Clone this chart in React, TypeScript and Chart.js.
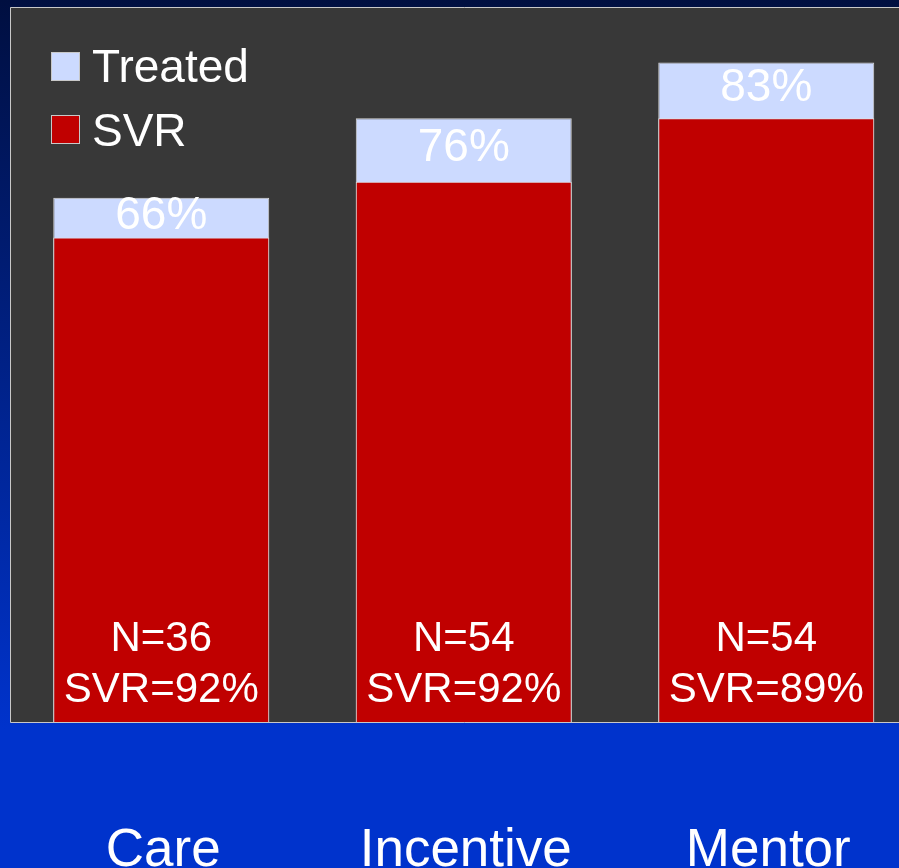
import React, { useEffect, useRef } from "react";
import { Chart, registerables } from "chart.js";

Chart.register(...registerables);

const categories = ["Care", "Incentive", "Mentor"];
const seriesLabels = ["Treated", "SVR"];
const treatedValues = [66, 76, 83];
const svrValues = [61, 68, 76];
const nValues = [36, 54, 54];
const svrRates = [92, 92, 89];
const yMax = 90;

const FONT = '"Liberation Sans", Arial, sans-serif';

const decorPlugin = {
  id: "decor",
  beforeDatasetsDraw(chart: any) {
    const { ctx, chartArea } = chart;
    ctx.save();
    ctx.fillStyle = "#383838";
    ctx.fillRect(chartArea.left, chartArea.top, chartArea.right - chartArea.left, chartArea.bottom - chartArea.top);
    ctx.strokeStyle = "#c8c8c8";
    ctx.lineWidth = 1;
    ctx.beginPath();
    ctx.moveTo(chartArea.right + 0.5, chartArea.top + 0.5);
    ctx.lineTo(chartArea.left + 0.5, chartArea.top + 0.5);
    ctx.lineTo(chartArea.left + 0.5, chartArea.bottom + 0.5);
    ctx.lineTo(chartArea.right + 0.5, chartArea.bottom + 0.5);
    ctx.stroke();
    ctx.restore();
  },
  afterDatasetsDraw(chart: any) {
    const { ctx, chartArea } = chart;
    const xScale = chart.scales.x;
    const metaT = chart.getDatasetMeta(0);
    const metaS = chart.getDatasetMeta(1);
    ctx.save();
    ctx.fillStyle = "#ffffff";
    ctx.textAlign = "center";
    ctx.textBaseline = "alphabetic";
    categories.forEach((c, i) => {
      const barT = metaT.data[i];
      const barS = metaS.data[i];
      const cx = barT.x;
      // treated percent label
      const segCenter = (barT.y + barS.y) / 2;
      ctx.font = `46px ${FONT}`;
      ctx.fillText(`${treatedValues[i]}%`, cx, segCenter + 11);
      // N and SVR text inside bars
      ctx.font = `42px ${FONT}`;
      ctx.fillText(`N=${nValues[i]}`, cx, chartArea.bottom - 71);
      ctx.fillText(`SVR=${svrRates[i]}%`, cx, chartArea.bottom - 20);
      // category labels
      ctx.font = `53px ${FONT}`;
      ctx.fillText(c, xScale.getPixelForValue(i) + 2, chartArea.bottom + 144);
    });
    // legend
    ctx.textAlign = "left";
    chart.data.datasets.forEach((ds: any, i: number) => {
      const bx = chartArea.left + 41;
      const by = chartArea.top + 45 + i * 63;
      ctx.fillStyle = ds.backgroundColor;
      ctx.fillRect(bx, by, 29, 29);
      ctx.strokeStyle = "#c8c8c8";
      ctx.lineWidth = 1;
      ctx.strokeRect(bx + 0.5, by + 0.5, 28, 28);
      ctx.fillStyle = "#ffffff";
      ctx.font = `46px ${FONT}`;
      ctx.fillText(ds.label, bx + 41, by + 30 + i);
    });
    ctx.restore();
  },
};

export default function App() {
  const canvasRef = useRef<HTMLCanvasElement | null>(null);

  useEffect(() => {
    if (!canvasRef.current) return;
    const chart = new Chart(canvasRef.current, {
      type: "bar",
      data: {
        labels: categories,
        datasets: [
          {
            label: seriesLabels[0],
            data: treatedValues,
            backgroundColor: "#ccdaff",
            borderColor: "#d8d8d8",
            borderWidth: 1,
            borderSkipped: "bottom",
            grouped: false,
            order: 2,
            categoryPercentage: 1,
            barPercentage: 0.714,
          },
          {
            label: seriesLabels[1],
            data: svrValues,
            backgroundColor: "#c00000",
            borderColor: "#e0e0e0",
            borderWidth: 1,
            borderSkipped: "bottom",
            grouped: false,
            order: 1,
            categoryPercentage: 1,
            barPercentage: 0.714,
          },
        ] as any,
      },
      options: {
        responsive: false,
        animation: false,
        devicePixelRatio: 1,
        layout: { padding: { left: 10, top: 7, right: 12.5, bottom: 146 } },
        plugins: {
          legend: { display: false },
          tooltip: { enabled: false },
        },
        scales: {
          x: { display: false, offset: true },
          y: { display: false, min: 0, max: yMax, stacked: false },
        },
      },
      plugins: [decorPlugin],
    });
    return () => chart.destroy();
  }, []);

  return (
    <div
      style={{
        position: "fixed",
        left: 0,
        top: 0,
        width: 899,
        height: 868,
        overflow: "hidden",
        background: "linear-gradient(180deg, #000f40 0%, #0033cc 84%, #0033cc 100%)",
      }}
    >
      <canvas ref={canvasRef} width={930} height={868} style={{ display: "block" }} />
    </div>
  );
}
